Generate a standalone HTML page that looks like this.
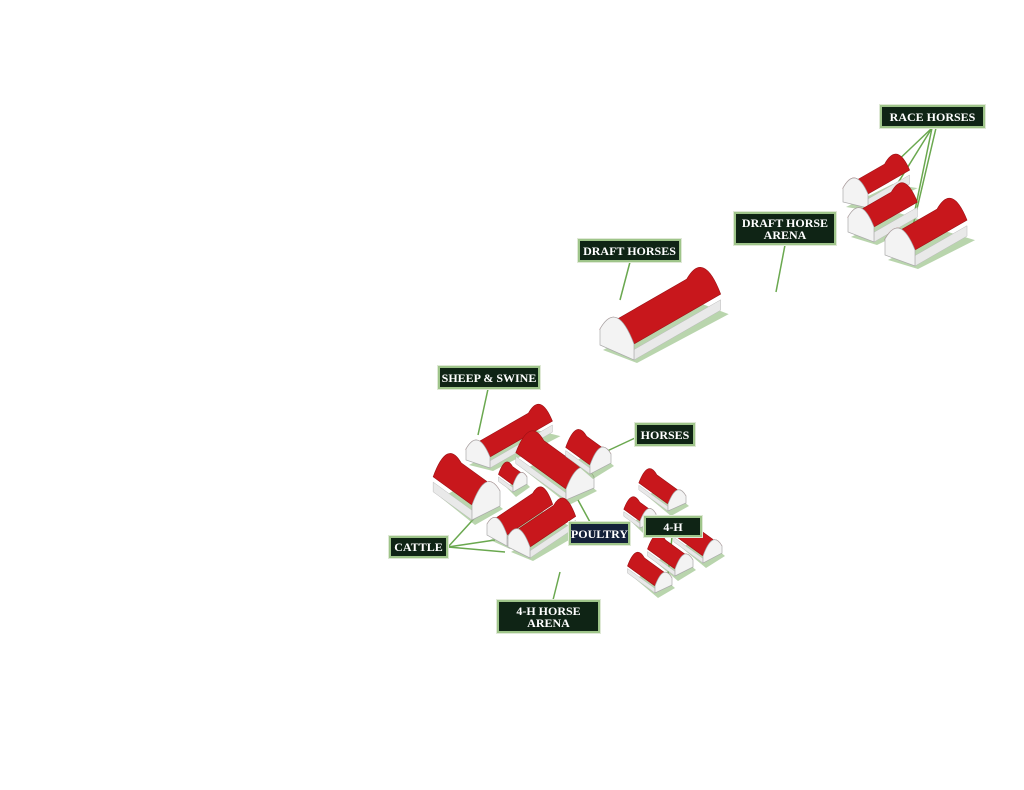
<!DOCTYPE html>
<html><head><meta charset="utf-8"><style>
html,body{margin:0;padding:0;background:#fff;width:1024px;height:790px;overflow:hidden}
svg{display:block}
.lb{position:absolute;background:#0f2415;border:2px solid #9fc58a;box-shadow:0 0 0 1px #dfe9d6;color:#fff;font:bold 12px "Liberation Serif",serif;text-align:center;line-height:12px;display:flex;align-items:center;justify-content:center;box-sizing:border-box}
.bl{background:#14213a}
</style></head><body>
<svg id="s" width="1024" height="790" xmlns="http://www.w3.org/2000/svg"></svg>
<div class="lb" style="left:880px;top:105px;width:105px;height:23px">RACE HORSES</div>
<div class="lb" style="left:734px;top:212px;width:102px;height:33px">DRAFT HORSE<br>ARENA</div>
<div class="lb" style="left:578px;top:239px;width:103px;height:23px">DRAFT HORSES</div>
<div class="lb" style="left:438px;top:366px;width:102px;height:23px">SHEEP &amp; SWINE</div>
<div class="lb" style="left:635px;top:423px;width:60px;height:23px">HORSES</div>
<div class="lb" style="left:389px;top:536px;width:59px;height:22px">CATTLE</div>
<div class="lb bl" style="left:569px;top:522px;width:61px;height:23px">POULTRY</div>
<div class="lb" style="left:644px;top:516px;width:58px;height:21px">4-H</div>
<div class="lb" style="left:497px;top:600px;width:103px;height:33px">4-H HORSE<br>ARENA</div>
<script>
var s=document.getElementById('s'),h='';
function ln(x1,y1,x2,y2){h+='<line x1="'+x1+'" y1="'+y1+'" x2="'+x2+'" y2="'+y2+'" stroke="#6aa84f" stroke-width="1.5"/>';}
function barn(A,B,ht,L,dx,dy){
 var n=Math.hypot(dx,dy);dx=dx/n*L;dy=dy/n*L;
 var At=[A[0],A[1]-ht],Bt=[B[0],B[1]-ht];
 var w=Math.hypot(B[0]-A[0],B[1]-A[1]);
 var C=[(At[0]+Bt[0])/2,(At[1]+Bt[1])/2-w*1.0];
 h+='<polygon points="'+(B[0]+3)+','+(B[1]+3)+' '+(B[0]+dx+8)+','+(B[1]+dy+4)+' '+(A[0]+dx+8)+','+(A[1]+dy+6)+' '+(A[0]+3)+','+(A[1]+5)+'" fill="#7fb36a" opacity=".55"/>';
 h+='<path d="M'+At+' Q'+C+' '+Bt+' L'+(Bt[0]+dx)+','+(Bt[1]+dy)+' Q'+(C[0]+dx)+','+(C[1]+dy)+' '+(At[0]+dx)+','+(At[1]+dy)+' Z" fill="#c8171c" stroke="#9b1014" stroke-width=".6"/>';
 var P=A[1]>B[1]?A:B,Pt=A[1]>B[1]?At:Bt;
 h+='<polygon points="'+P+' '+(P[0]+dx)+','+(P[1]+dy)+' '+(Pt[0]+dx)+','+(Pt[1]+dy+ht*0.35)+' '+Pt[0]+','+(Pt[1]+ht*0.35)+'" fill="#e9e9e9" stroke="#bbb" stroke-width=".5"/>';
 h+='<path d="M'+A+' L'+At+' Q'+C+' '+Bt+' L'+B+' Z" fill="#f3f3f3" stroke="#aaa" stroke-width=".7"/>';
}
ln(932,128,872,185);ln(932,128,878,215);ln(932,128,915,210);ln(936,128,912,230);
ln(785,245,776,292);ln(630,262,620,300);ln(488,389,478,435);ln(635,438,605,452);
ln(448,547,480,512);ln(448,547,505,552);ln(448,547,495,540);ln(590,522,578,500);
ln(672,537,668,575);ln(553,600,560,572);
barn([843,202],[868,208],14,48,0.87,-0.5);
barn([848,232],[874,242],15,50,0.87,-0.5);
barn([885,255],[915,266],16,60,0.87,-0.5);
barn([600,345],[634,360],16,100,0.87,-0.5);
barn([466,460],[490,468],11,72,0.87,-0.5);
barn([472,520],[500,506],15,48,-0.8,-0.58);
barn([513,492],[527,484],7,18,-0.8,-0.58);
barn([566,500],[594,488],11,62,-0.8,-0.58);
barn([590,474],[611,463],9,30,-0.8,-0.58);
barn([487,535],[507,546],11,55,0.82,-0.55);
barn([508,547],[530,558],11,55,0.82,-0.55);
barn([668,511],[686,503],7,36,-0.8,-0.58);
barn([640,528],[656,521],7,20,-0.8,-0.58);
barn([703,563],[722,553],7,36,-0.8,-0.58);
barn([675,576],[693,567],7,34,-0.8,-0.58);
barn([655,593],[672,585],7,34,-0.8,-0.58);
s.innerHTML=h;
</script>
</body></html>
